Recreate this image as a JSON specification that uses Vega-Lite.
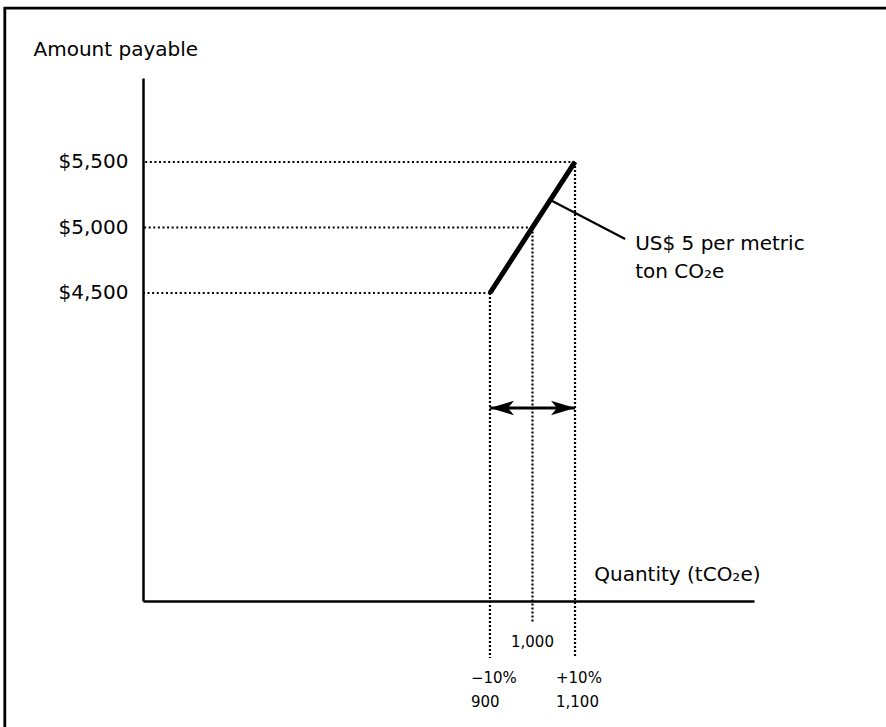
{
  "$schema": "https://vega.github.io/schema/vega-lite/v6.json",
  "width": 611,
  "height": 523,
  "autosize": "none",
  "padding": {"left": 143, "top": 78, "right": 132, "bottom": 126},
  "background": "white",
  "config": {"view": {"stroke": null}, "font": "DejaVu Sans"},
  "datasets": {
    "levels": [
      {"q": 900, "amount": 4500, "xlabel": "−10%\n900"},
      {"q": 1000, "amount": 5000, "xlabel": "1,000"},
      {"q": 1100, "amount": 5500, "xlabel": "+10%\n1,100"}
    ],
    "band": [{"lo": 900, "hi": 1100}],
    "note": [{"note": "US$ 5 per metric\nton CO₂e"}]
  },
  "layer": [
    {
      "data": {"name": "levels"},
      "mark": {"type": "line", "color": "black", "strokeWidth": 5, "strokeCap": "butt"},
      "encoding": {
        "x": {
          "field": "q", "type": "quantitative",
          "scale": {"domain": [84, 1521], "zero": false, "nice": false},
          "axis": {
            "labels": false, "ticks": false, "grid": false,
            "domainColor": "black", "domainWidth": 2.5,
            "title": "Quantity (tCO₂e)", "titleX": 617, "titleY": -21,
            "titleAlign": "right", "titleBaseline": "alphabetic",
            "titleFontSize": 20, "titleFontWeight": "normal", "titleColor": "black", "titleFont": "DejaVu Sans"
          }
        },
        "y": {
          "field": "amount", "type": "quantitative",
          "scale": {"domain": [2149, 6141], "zero": false, "nice": false},
          "axis": {
            "values": [4500, 5000, 5500], "format": "$,d",
            "ticks": false, "grid": false,
            "domainColor": "black", "domainWidth": 2.5,
            "labelFontSize": 20, "labelColor": "black", "labelFont": "DejaVu Sans", "labelPadding": 15,
            "labelBaseline": "middle",
            "title": "Amount payable", "titleAngle": 0, "titleAlign": "left", "titleBaseline": "alphabetic",
            "titleX": -110, "titleY": -23,
            "titleFontSize": 20, "titleFontWeight": "normal", "titleColor": "black", "titleFont": "DejaVu Sans"
          }
        }
      }
    },
    {
      "data": {"name": "band"},
      "mark": {"type": "rect", "filled": false, "stroke": "black", "strokeWidth": 2.8},
      "encoding": {
        "x": {"datum": -241, "type": "quantitative"},
        "x2": {"datum": 1900},
        "y": {"datum": 6675, "type": "quantitative"},
        "y2": {"datum": 1100}
      }
    },
    {
      "data": {"name": "levels"},
      "mark": {"type": "rule", "color": "black", "strokeWidth": 2, "strokeDash": [2, 2.6]},
      "encoding": {
        "x": {"field": "q", "type": "quantitative"},
        "x2": {"datum": 84},
        "y": {"field": "amount", "type": "quantitative"}
      }
    },
    {
      "data": {"name": "levels"},
      "transform": [{"filter": "datum.q != 1000"}],
      "mark": {"type": "rule", "color": "black", "strokeWidth": 2.2, "strokeDash": [2, 2]},
      "encoding": {
        "x": {"field": "q", "type": "quantitative"},
        "y": {"field": "amount", "type": "quantitative"},
        "y2": {"datum": 1714}
      }
    },
    {
      "data": {"name": "levels"},
      "transform": [{"filter": "datum.q == 1000"}],
      "mark": {"type": "rule", "color": "black", "strokeWidth": 2.2, "strokeDash": [2, 2]},
      "encoding": {
        "x": {"field": "q", "type": "quantitative"},
        "y": {"field": "amount", "type": "quantitative"},
        "y2": {"datum": 1989}
      }
    },
    {
      "data": {"name": "band"},
      "mark": {"type": "rule", "color": "black", "strokeWidth": 3},
      "encoding": {
        "x": {"field": "lo", "type": "quantitative"},
        "x2": {"field": "hi"},
        "y": {"datum": 3622, "type": "quantitative"}
      }
    },
    {
      "data": {"name": "band"},
      "mark": {"type": "point", "filled": true, "color": "black", "opacity": 1, "size": 576, "shape": "M0,0L2,-0.6L1.5,0L2,0.6Z"},
      "encoding": {
        "x": {"field": "lo", "type": "quantitative"},
        "y": {"datum": 3622, "type": "quantitative"}
      }
    },
    {
      "data": {"name": "band"},
      "mark": {"type": "point", "filled": true, "color": "black", "opacity": 1, "size": 576, "shape": "M0,0L-2,-0.6L-1.5,0L-2,0.6Z"},
      "encoding": {
        "x": {"field": "hi", "type": "quantitative"},
        "y": {"datum": 3622, "type": "quantitative"}
      }
    },
    {
      "data": {"name": "note"},
      "mark": {"type": "rule", "color": "black", "strokeWidth": 2.2},
      "encoding": {
        "x": {"datum": 1042, "type": "quantitative"},
        "y": {"datum": 5210, "type": "quantitative"},
        "x2": {"datum": 1218},
        "y2": {"datum": 4912}
      }
    },
    {
      "data": {"name": "note"},
      "mark": {"type": "text", "align": "left", "baseline": "alphabetic", "dx": 10, "dy": 11, "fontSize": 20, "lineHeight": 28, "lineBreak": "\n", "color": "black", "font": "DejaVu Sans"},
      "encoding": {
        "x": {"datum": 1218, "type": "quantitative"},
        "y": {"datum": 4912, "type": "quantitative"},
        "text": {"field": "note", "type": "nominal"}
      }
    },
    {
      "data": {"name": "levels"},
      "transform": [{"filter": "datum.q != 1000"}],
      "mark": {"type": "text", "align": "left", "baseline": "alphabetic", "dx": -19, "dy": 82, "fontSize": 15, "lineHeight": 24, "lineBreak": "\n", "color": "black", "font": "DejaVu Sans"},
      "encoding": {
        "x": {"field": "q", "type": "quantitative"},
        "y": {"datum": 2149, "type": "quantitative"},
        "text": {"field": "xlabel", "type": "nominal"}
      }
    },
    {
      "data": {"name": "levels"},
      "transform": [{"filter": "datum.q == 1000"}],
      "mark": {"type": "text", "align": "center", "baseline": "alphabetic", "dy": 46, "fontSize": 15, "color": "black", "font": "DejaVu Sans"},
      "encoding": {
        "x": {"field": "q", "type": "quantitative"},
        "y": {"datum": 2149, "type": "quantitative"},
        "text": {"field": "xlabel", "type": "nominal"}
      }
    }
  ]
}
